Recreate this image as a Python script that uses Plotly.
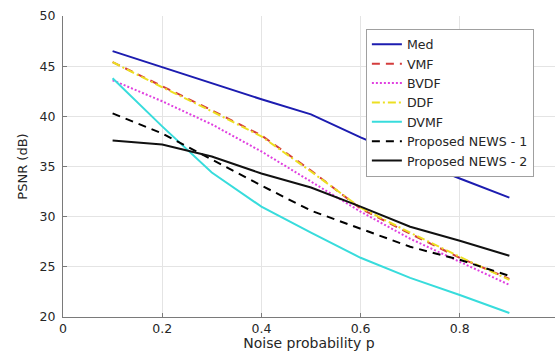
import plotly.graph_objects as go

p = [0.1, 0.2, 0.3, 0.4, 0.5, 0.6, 0.7, 0.8, 0.9]

med = [46.5, 44.9, 43.3, 41.7, 40.2, 37.9, 35.8, 33.8, 31.9]
vmf = [45.4, 43.0, 40.6, 38.1, 34.6, 30.8, 28.3, 25.9, 23.8]
bvdf = [43.6, 41.5, 39.2, 36.5, 33.5, 30.5, 27.8, 25.5, 23.2]
ddf = [45.4, 42.9, 40.5, 38.0, 34.5, 30.9, 28.4, 26.0, 23.7]
dvmf = [43.8, 39.0, 34.4, 31.0, 28.4, 25.9, 23.9, 22.2, 20.4]
news1 = [40.3, 38.3, 35.7, 33.1, 30.6, 28.8, 27.0, 25.7, 24.1]
news2 = [37.6, 37.2, 36.0, 34.3, 32.9, 31.0, 29.0, 27.6, 26.1]

names = ["Med", "VMF", "BVDF", "DDF", "DVMF", "Proposed NEWS - 1", "Proposed NEWS - 2"]
series = [med, vmf, bvdf, ddf, dvmf, news1, news2]
colors = ["#1c1cb0", "#d43c3c", "#e040e0", "#ecdf22", "#38dcdc", "#000000", "#111111"]
dashes = ["solid", "8px,6px", "2px,2px", "8px,3px,2px,3px", "solid", "8px,6px", "solid"]

fig = go.Figure()
for n, s, c, d in zip(names, series, colors, dashes):
    fig.add_trace(go.Scatter(x=p, y=s, mode="lines", name=n,
                             line=dict(color=c, width=2, dash=d)))

font = "DejaVu Sans, Arial, sans-serif"
fig.update_layout(
    width=555, height=351,
    margin=dict(l=62.5, r=0, t=16, b=34, pad=0),
    paper_bgcolor="white", plot_bgcolor="white",
    font=dict(family=font, size=12.5, color="#262626"),
    showlegend=True,
    legend=dict(x=0.6156, y=0.958, xanchor="left", yanchor="top",
                bgcolor="white", bordercolor="#a0a0a0", borderwidth=1,
                font=dict(family=font, size=12.6, color="#262626"),
                tracegroupgap=0),
    xaxis=dict(range=[0, 0.992], tickvals=[0, 0.2, 0.4, 0.6, 0.8],
               ticktext=["0", "0.2", "0.4", "0.6", "0.8"],
               showgrid=True, gridcolor="#e4e4e4", gridwidth=1,
               zeroline=False, showline=True, linecolor="#7a7a7a", linewidth=1,
               ticks="inside", ticklen=4, tickcolor="#7a7a7a",
               automargin=False,
               title=dict(text="Noise probability p", standoff=4,
                          font=dict(size=14, color="#262626"))),
    yaxis=dict(range=[20, 50], dtick=5,
               showgrid=True, gridcolor="#e4e4e4", gridwidth=1,
               zeroline=False, showline=True, linecolor="#7a7a7a", linewidth=1,
               ticks="inside", ticklen=4, tickcolor="#7a7a7a",
               ticklabelstandoff=4,
               automargin=False,
               title=dict(text="PSNR (dB)", standoff=9,
                          font=dict(size=13, color="#262626"))),
)

fig.write_html("out.html", config={"displayModeBar": False},
               post_script="document.body.style.margin='0';document.body.style.overflow='hidden';")
